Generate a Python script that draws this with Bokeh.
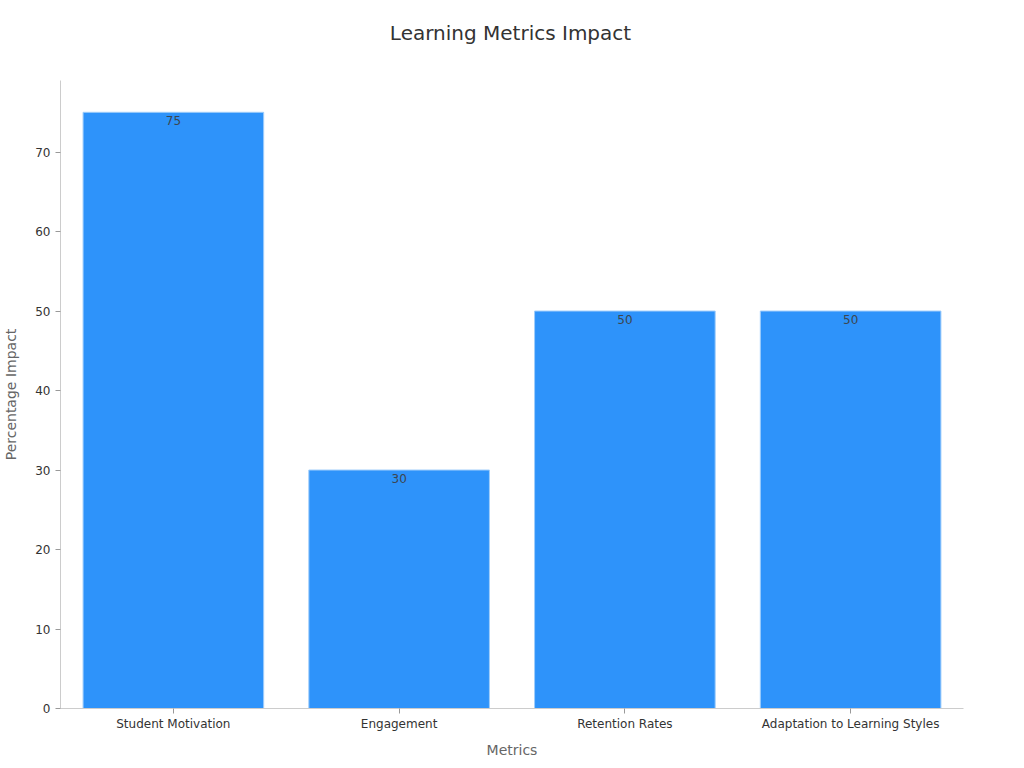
from bokeh.core.properties import value
from bokeh.embed import file_html
from bokeh.layouts import column
from bokeh.models import ColumnDataSource, Range1d, FactorRange, Div
from bokeh.plotting import figure
from bokeh.resources import INLINE

metrics = ["Student Motivation", "Engagement", "Retention Rates", "Adaptation to Learning Styles"]
impact = [75, 30, 50, 50]
y_ticks = [0, 10, 20, 30, 40, 50, 60, 70]
title = "Learning Metrics Impact"

FONT = "DejaVu Sans"

source = ColumnDataSource(data=dict(
    metric=metrics,
    impact=impact,
    label=[str(v) for v in impact],
))

p = figure(
    x_range=FactorRange(*metrics),
    y_range=Range1d(0, 79),
    frame_width=903, frame_height=628,
    min_border_left=52, min_border_right=50,
    min_border_top=22, min_border_bottom=40,
    output_backend="svg",
    toolbar_location=None,
    tools="",
)

p.vbar(x="metric", top="impact", width=0.8, source=source,
       fill_color="#2E93FA", line_color="#9fcdfb", line_width=1)

p.text(x="metric", y="impact", text="label", source=source,
       text_align="center", text_baseline="top", y_offset=4,
       text_font=value(FONT), text_font_size="12px", text_color="#3d4650")

p.xaxis.axis_label = "Metrics"
p.yaxis.axis_label = "Percentage Impact"
p.yaxis.ticker = y_ticks

for ax in (p.xaxis, p.yaxis):
    ax.axis_label_text_font = FONT
    ax.axis_label_text_font_size = "14px"
    ax.axis_label_text_font_style = "normal"
    ax.axis_label_text_color = "#666666"
    ax.major_label_text_font = FONT
    ax.major_label_text_font_size = "12px"
    ax.major_label_text_color = "#333333"
    ax.axis_line_color = "#cccccc"
    ax.major_tick_line_color = "#999999"
    ax.major_tick_in = 0
    ax.major_tick_out = 5
    ax.minor_tick_line_color = None

p.xaxis.major_label_standoff = 3
p.xaxis.axis_label_standoff = 8
p.yaxis.axis_label_standoff = 13

p.xgrid.grid_line_color = None
p.ygrid.grid_line_color = None
p.outline_line_color = None

header = Div(
    text=f'<div style="width:1008px;text-align:center;font-family:\'{FONT}\';'
         f'font-size:20px;line-height:24px;color:#333333;padding-top:16px;padding-left:3px">{title}</div>',
    width=1008, height=48,
)

layout = column(header, p, spacing=0)

open("out.html", "w").write(file_html(layout, INLINE))
